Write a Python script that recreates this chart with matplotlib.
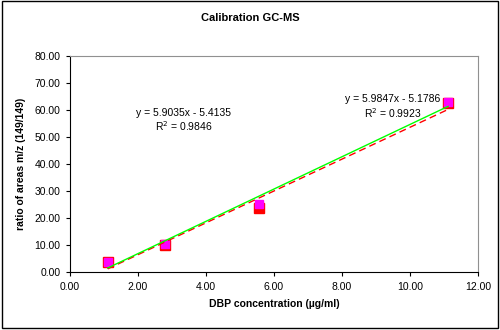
import numpy as np
import matplotlib
matplotlib.use('Agg')
import matplotlib.pyplot as plt
from matplotlib.patches import Rectangle

plt.rcParams['font.family'] = ['Liberation Sans', 'DejaVu Sans']

# DBP concentration (ug/ml) and area ratios for the two calibration runs
conc = [1.11, 2.78, 5.56, 11.12]
ratio_run1 = [3.5, 9.8, 23.7, 62.8]
ratio_run2 = [3.8, 10.5, 25.2, 62.9]

# linear trendlines as reported on the chart
fit_run1 = (5.9035, -5.4135, 0.9846)
fit_run2 = (5.9847, -5.1786, 0.9923)

fig = plt.figure(figsize=(5.0, 3.3), dpi=100)
ax = fig.add_axes([0.14, 0.176, 0.816, 0.654])

ax.plot(conc, ratio_run1, 's', color='red', markersize=7, zorder=3)
ax.plot(conc, ratio_run2, 's', color='magenta', markersize=6, zorder=4)

xs = np.array([min(conc), max(conc)])
ax.plot(xs, fit_run1[0] * xs + fit_run1[1], color='red', linestyle=(0, (5, 3)), linewidth=1, zorder=5)
ax.plot(xs, fit_run2[0] * xs + fit_run2[1], color='#00ff00', linewidth=1, zorder=5)

ax.text(3.35, 59.0, f'y = {fit_run1[0]}x - {abs(fit_run1[1])}', fontsize=7.5, ha='center', va='center')
ax.text(3.35, 54.0, f'R$^2$ = {fit_run1[2]}', fontsize=7.5, ha='center', va='center')
ax.text(9.5, 64.0, f'y = {fit_run2[0]}x - {abs(fit_run2[1])}', fontsize=7.5, ha='center', va='center')
ax.text(9.5, 59.0, f'R$^2$ = {fit_run2[2]}', fontsize=7.5, ha='center', va='center')

ax.set_xlim(0, 12)
ax.set_ylim(0, 80)
ax.set_xticks(np.arange(0, 13, 2))
ax.set_yticks(np.arange(0, 81, 10))
ax.set_xticklabels([f'{v:.2f}' for v in np.arange(0, 13, 2)])
ax.set_yticklabels([f'{v:.2f}' for v in np.arange(0, 81, 10)])
ax.tick_params(direction='out', length=3, width=0.8, labelsize=7.5, pad=4)

ax.spines['top'].set_color('#909090')
ax.spines['right'].set_color('#909090')
ax.spines['left'].set_color('black')
ax.spines['bottom'].set_color('black')

ax.set_xlabel('DBP concentration (µg/ml)', fontsize=7.5, fontweight='bold', labelpad=5)
ax.set_ylabel('ratio of areas m/z (149/149)', fontsize=7.5, fontweight='bold', labelpad=6)
fig.text(0.5, 0.945, 'Calibration GC-MS', fontsize=8, fontweight='bold', ha='center', va='center')

fig.patches.append(Rectangle((0.003, 0.006), 0.992, 0.99, transform=fig.transFigure,
                             fill=False, edgecolor='black', linewidth=1))

plt.savefig('out.png', dpi=100)
